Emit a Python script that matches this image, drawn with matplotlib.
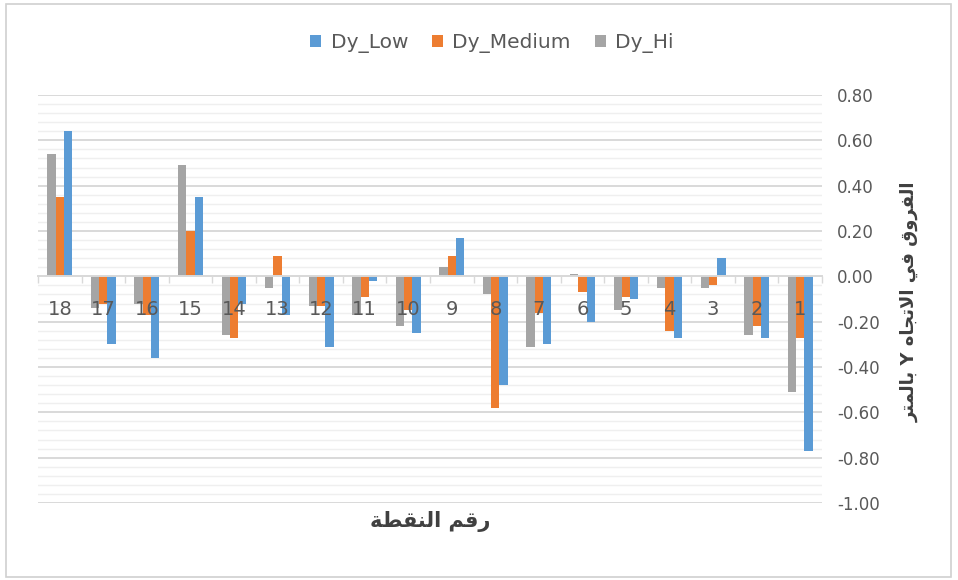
import matplotlib
matplotlib.use("Agg")
import matplotlib.pyplot as plt
from matplotlib.patches import Rectangle
from matplotlib.ticker import FixedLocator, FuncFormatter
import numpy as np

# ---- data -------------------------------------------------------------
points = list(range(1, 19))
dy_low = [-0.77, -0.27, 0.08, -0.27, -0.10, -0.20, -0.30, -0.48, 0.17,
          -0.25, -0.02, -0.31, -0.17, -0.12, 0.35, -0.36, -0.30, 0.64]
dy_medium = [-0.27, -0.22, -0.04, -0.24, -0.09, -0.07, -0.16, -0.58, 0.09,
             -0.15, -0.09, -0.13, 0.09, -0.27, 0.20, -0.17, -0.12, 0.35]
dy_hi = [-0.51, -0.26, -0.05, -0.05, -0.15, 0.01, -0.31, -0.08, 0.04,
         -0.22, -0.17, -0.13, -0.05, -0.26, 0.49, -0.12, -0.14, 0.54]
series_names = ["Dy_Low", "Dy_Medium", "Dy_Hi"]
y_ticks = [0.80, 0.60, 0.40, 0.20, 0.00, -0.20, -0.40, -0.60, -0.80, -1.00]

x_title = "رقم النقطة"
y_title = "الفروق في الاتجاه Y بالمتر"

# ---- minimal Arabic shaping (contextual forms + RTL ordering) ----------
FORMS = {
    "\u0627": ("\uFE8D", "\uFE8E", None, None),
    "\u0628": ("\uFE8F", "\uFE90", "\uFE91", "\uFE92"),
    "\u0629": ("\uFE93", "\uFE94", None, None),
    "\u062A": ("\uFE95", "\uFE96", "\uFE97", "\uFE98"),
    "\u062C": ("\uFE9D", "\uFE9E", "\uFE9F", "\uFEA0"),
    "\u0631": ("\uFEAD", "\uFEAE", None, None),
    "\u0637": ("\uFEC1", "\uFEC2", "\uFEC3", "\uFEC4"),
    "\u0641": ("\uFED1", "\uFED2", "\uFED3", "\uFED4"),
    "\u0642": ("\uFED5", "\uFED6", "\uFED7", "\uFED8"),
    "\u0644": ("\uFEDD", "\uFEDE", "\uFEDF", "\uFEE0"),
    "\u0645": ("\uFEE1", "\uFEE2", "\uFEE3", "\uFEE4"),
    "\u0646": ("\uFEE5", "\uFEE6", "\uFEE7", "\uFEE8"),
    "\u0647": ("\uFEE9", "\uFEEA", "\uFEEB", "\uFEEC"),
    "\u0648": ("\uFEED", "\uFEEE", None, None),
    "\u064A": ("\uFEF1", "\uFEF2", "\uFEF3", "\uFEF4"),
}
LAM_ALEF = ("\uFEFB", "\uFEFC")


def shape_arabic(text):
    out = []
    prev_joins = False
    i, n = 0, len(text)
    while i < n:
        c = text[i]
        if c not in FORMS:
            out.append(c)
            prev_joins = False
            i += 1
            continue
        if c == "\u0644" and i + 1 < n and text[i + 1] == "\u0627":
            out.append(LAM_ALEF[1] if prev_joins else LAM_ALEF[0])
            prev_joins = False
            i += 2
            continue
        nxt = text[i + 1] if i + 1 < n else ""
        iso, fin, ini, med = FORMS[c]
        to_next = ini is not None and nxt in FORMS
        if prev_joins and to_next:
            g = med
        elif prev_joins:
            g = fin
        elif to_next:
            g = ini
        else:
            g = iso
        out.append(g)
        prev_joins = to_next
        i += 1
    return "".join(reversed(out))


# ---- styling ------------------------------------------------------------
plt.rcParams["font.family"] = ["DejaVu Sans"]
TEXT = "#595959"
C_LOW, C_MED, C_HI = "#5B9BD5", "#ED7D31", "#A5A5A5"

W, H = 958, 580
fig = plt.figure(figsize=(W / 100, H / 100), dpi=100)
fig.patch.set_facecolor("white")

# chart border
fig.add_artist(Rectangle((6 / W, 1 - 577 / H), 945 / W, 573 / H,
                         transform=fig.transFigure, fill=False,
                         edgecolor="#D0D0D0", linewidth=1.2))

ax = fig.add_axes([38 / W, 1 - 503 / H, 784 / W, 408 / H])

x = np.arange(len(points))
bw = 0.19
ax.bar(x - bw, dy_low, bw, color=C_LOW, label=series_names[0], zorder=2)
ax.bar(x, dy_medium, bw, color=C_MED, label=series_names[1], zorder=2)
ax.bar(x + bw, dy_hi, bw, color=C_HI, label=series_names[2], zorder=2)

ax.set_xlim(-0.5, len(points) - 0.5)
ax.invert_xaxis()
ax.set_ylim(-1.0, 0.8)

# gridlines (major every 0.2, minor every 0.04)
ax.yaxis.set_major_locator(FixedLocator(y_ticks))
ax.yaxis.set_minor_locator(FixedLocator(np.round(np.arange(-1.0, 0.801, 0.04), 2)))
ax.yaxis.set_major_formatter(FuncFormatter(lambda v, p: f"{v:.2f}"))
ax.grid(axis="y", which="major", color="#D9D9D9", linewidth=1.4)
ax.grid(axis="y", which="minor", color="#EFEFEF", linewidth=1.0)
ax.yaxis.set_zorder(0.5)
ax.yaxis.tick_right()
ax.tick_params(axis="y", which="both", length=0, pad=11,
               labelsize=12, labelcolor=TEXT)

# category axis sitting on the zero line
for s in ["top", "left", "right"]:
    ax.spines[s].set_visible(False)
ax.spines["bottom"].set_position(("data", 0))
ax.spines["bottom"].set_color("#D9D9D9")
ax.spines["bottom"].set_linewidth(1.4)
ax.xaxis.set_major_locator(FixedLocator(np.arange(-0.5, len(points), 1.0)))
ax.xaxis.set_major_formatter(FuncFormatter(lambda v, p: ""))
ax.xaxis.set_minor_locator(FixedLocator(x))
ax.xaxis.set_minor_formatter(FuncFormatter(lambda v, p: str(points[int(round(v))])))
ax.tick_params(axis="x", which="major", length=5, width=1, color="#D9D9D9",
               direction="out")
ax.tick_params(axis="x", which="minor", length=0, pad=17,
               labelsize=14, labelcolor=TEXT)
ax.xaxis.set_zorder(3)
ax.set_facecolor("none")

# legend
handles, labels = ax.get_legend_handles_labels()
fig.legend(handles, labels, loc="center", bbox_to_anchor=(492 / W, 1 - 43 / H),
           ncol=3, frameon=False, fontsize=14.5, labelcolor=TEXT,
           handlelength=0.55, handleheight=0.55, handletextpad=0.45,
           columnspacing=1.2)

# axis titles
fig.text(430 / W, 1 - 522 / H, shape_arabic(x_title), ha="center", va="center",
         fontsize=15, fontweight="bold", color="#404040")
fig.text(910 / W, 1 - 302 / H, shape_arabic(y_title), ha="center", va="center",
         rotation=90, fontsize=13, fontweight="bold", color="#404040")

fig.savefig("out.png", dpi=100, facecolor="white")
